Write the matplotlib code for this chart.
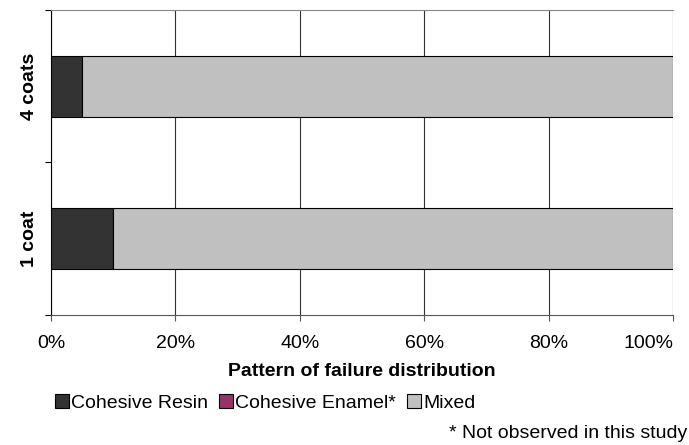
import matplotlib.pyplot as plt
from matplotlib.patches import Patch

plt.rcParams['font.family'] = ['Liberation Sans', 'DejaVu Sans']

categories = ['1 coat', '4 coats']
resin = [10, 5]
enamel = [0, 0]
mixed = [90, 95]
series_names = ['Cohesive Resin', 'Cohesive Enamel*', 'Mixed']
colors = ['#333333', '#993366', '#C0C0C0']
xticks = [0, 20, 40, 60, 80, 100]

FS = 14

fig = plt.figure(figsize=(6.89, 4.45), dpi=100)
ax = fig.add_axes([0.074, 0.292, 0.903, 0.686])

ypos = list(range(len(categories)))
left = [0] * len(categories)
for vals, col in zip([resin, enamel, mixed], colors):
    ax.barh(ypos, vals, left=left, height=0.4, color=col,
            edgecolor='black', linewidth=0.8, zorder=3)
    left = [a + b for a, b in zip(left, vals)]

ax.set_xlim(0, 100)
ax.set_ylim(-0.5, 1.5)
ax.set_xticks(xticks)
ax.set_xticklabels([f'{v}%' for v in xticks], fontsize=FS)
ax.get_xticklabels()[-1].set_ha('right')
ax.tick_params(axis='x', length=4, direction='out', color='#555555', pad=10)

# category boundaries as ticks, labels at centers
ax.set_yticks([-0.5, 0.5, 1.5])
ax.set_yticklabels([])
ax.set_yticks(ypos, minor=True)
ax.set_yticklabels(categories, minor=True, rotation=90, fontsize=FS,
                   fontweight='bold', va='center')
ax.tick_params(axis='y', which='major', length=4, direction='out')
ax.tick_params(axis='y', which='minor', length=0, pad=9)

ax.grid(axis='x', color='#333333', linewidth=0.8, zorder=0)
ax.spines['right'].set_visible(False)
ax.spines['top'].set_color('#888888')
ax.spines['top'].set_linewidth(0.8)
ax.spines['bottom'].set_color('#555555')
ax.spines['left'].set_color('black')

ax.set_xlabel('Pattern of failure distribution', fontsize=FS,
              fontweight='bold', labelpad=8)

handles = [Patch(facecolor=c, edgecolor='black', linewidth=0.8) for c in colors]
fig.legend(handles, series_names, loc='center left', bbox_to_anchor=(0.080, 0.095),
           ncol=3, frameon=False, fontsize=FS, handlelength=0.7,
           handleheight=0.7, handletextpad=0.1, columnspacing=0.6,
           borderpad=0, borderaxespad=0)

fig.text(0.997, 0.006, '* Not observed in this study', ha='right', va='bottom',
         fontsize=FS)

fig.savefig('out.png', dpi=100)
